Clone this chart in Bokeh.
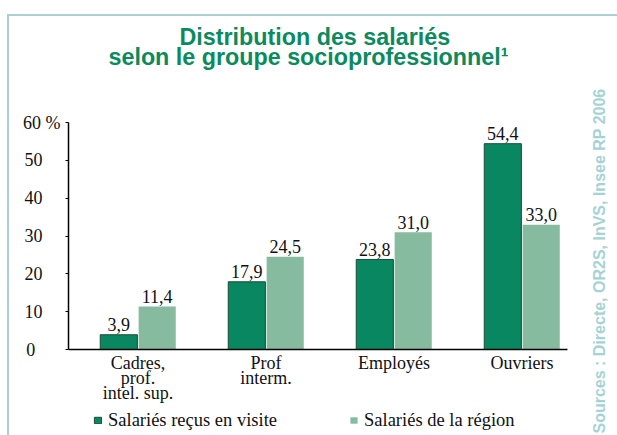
import math
from bokeh.plotting import figure
from bokeh.models import (ColumnDataSource, FixedTicker, Legend, LegendItem, Label,
                          Range1d, InlineStyleSheet)
from bokeh.core.properties import value
from bokeh.transform import dodge
from bokeh.embed import file_html
from bokeh.resources import INLINE

# ---- data ----
categories = ["Cadres,\nprof.\nintel. sup.", "Prof\ninterm.", "Employés", "Ouvriers"]
visite = [3.9, 17.9, 23.8, 54.4]
region = [11.4, 24.5, 31.0, 33.0]
series_names = ["Salariés reçus en visite", "Salariés de la région"]
y_ticks = [0, 10, 20, 30, 40, 50, 60]
y_tick_labels = ["0", "10", "20", "30", "40", "50", "60 %"]
title_lines = ["Distribution des salariés", "selon le groupe socioprofessionnel\u00b9"]
source_note = "Sources : Directe, OR2S, InVS, Insee RP 2006"

DARK = "#088760"
LIGHT = "#86bba0"
TITLE_C = "#0b8a5e"
NOTE_C = "#a7d2d5"
SERIF = "'Liberation Serif', serif"
SANS = "'Liberation Sans', sans-serif"

W, H = 617, 435
FL = 68                       # frame left (y axis position), px
Y_LO, Y_HI = -22.73, 92.25    # value range spanning the whole canvas height
X_LO, X_HI = -0.543, 3.746    # category range spanning frame width
AXIS_X = (-0.543, 3.355)      # extent of the baseline (x axis line)
BL = 7                        # baseline correction of svg text, px

def fmt(v):
    return f"{v:.1f}".replace(".", ",")

idx = list(range(len(categories)))
src = ColumnDataSource(dict(
    x=idx, zero=[0] * len(idx), cat=categories,
    visite=visite, region=region,
    vlab=[fmt(v) for v in visite], rlab=[fmt(v) for v in region],
))

border_css = InlineStyleSheet(css="""
:host::after {
  content: ""; position: absolute; left: 7px; top: 14px; right: -20px; bottom: -20px;
  border-top: 2.5px solid #a7d2d5; border-left: 2.5px solid #a7d2d5;
  pointer-events: none; z-index: 5;
}
""")

p = figure(width=W, height=H, output_backend="svg", toolbar_location=None,
           x_range=Range1d(X_LO, X_HI), y_range=Range1d(Y_LO, Y_HI),
           x_axis_location=None, stylesheets=[border_css],
           min_border_left=FL, min_border_right=0, min_border_top=0,
           min_border_bottom=0)
p.outline_line_color = None
p.xgrid.visible = False
p.ygrid.visible = False
p.background_fill_color = "white"
p.border_fill_color = "white"

r1 = p.vbar(x=dodge("x", -0.15), top="visite", width=0.29, source=src,
            fill_color=DARK, line_color="#1c4a36", line_width=1)
r2 = p.vbar(x=dodge("x", 0.15), top="region", width=0.29, source=src,
            fill_color=LIGHT, line_color=None)

# value labels
for col, lab, off in (("visite", "vlab", -0.15), ("region", "rlab", 0.15)):
    p.text(x=dodge("x", off), y=col, text=lab, source=src,
           text_align="center", text_baseline="alphabetic", y_offset=-3 - BL,
           text_font=value(SERIF), text_font_size="18px", text_color="#111111")

# baseline (x axis line) and category labels
p.segment(x0=[AXIS_X[0]], y0=[0], x1=[AXIS_X[1]], y1=[0],
          line_color="black", line_width=1.5)
p.text(x="x", y="zero", text="cat", source=src, text_align="center",
       text_baseline="top", y_offset=3, text_line_height=0.75,
       text_font=value(SERIF), text_font_size="18px", text_color="#111111")

# y axis
pad = {"0": "\u2007\u2007\u2009\u2009", "60 %": ""}
ya = p.yaxis[0]
ya.bounds = (y_ticks[0], y_ticks[-1])
ya.ticker = FixedTicker(ticks=y_ticks)
ya.major_label_overrides = {t: l + pad.get(l, "\u2007\u2007") for t, l in zip(y_ticks, y_tick_labels)}
ya.major_tick_out = 3
ya.major_tick_in = 0
ya.minor_tick_line_color = None
ya.axis_line_color = "black"
ya.axis_line_width = 1.5
ya.major_label_text_font = SERIF
ya.major_label_text_font_size = "18px"
ya.major_label_text_color = "#111111"
ya.major_label_standoff = 5

# legend (screen offsets from the frame's bottom-left)
legend = Legend(items=[LegendItem(label=series_names[0], renderers=[r1]),
                       LegendItem(label=series_names[1], renderers=[r2])],
                orientation="horizontal", location=(93 - FL, 4.5),
                label_text_font="Liberation Serif", label_text_font_size="18.5px",
                label_text_color="#111111",
                glyph_width=9, glyph_height=8, label_height=18, label_standoff=6,
                spacing=72, padding=0, margin=0,
                border_line_color=None, background_fill_alpha=0)
p.add_layout(legend, "center")

# two-line title
p.add_layout(Label(x=179 - FL, y=H - 43 + BL, x_units="screen", y_units="screen",
                   text=title_lines[0], text_align="left", text_baseline="alphabetic",
                   text_font=SANS, text_font_style="bold", text_font_size="23.3px",
                   text_color=TITLE_C))
p.add_layout(Label(x=108 - FL, y=H - 63 + BL, x_units="screen", y_units="screen",
                   text=title_lines[1], text_align="left", text_baseline="alphabetic",
                   text_font=SANS, text_font_style="bold", text_font_size="23.3px",
                   text_color=TITLE_C))

# vertical source note
p.add_layout(Label(x=606 - BL - FL, y=H - 433, x_units="screen", y_units="screen",
                   text=source_note, angle=math.pi / 2, text_align="left",
                   text_baseline="alphabetic",
                   text_font=SANS, text_font_style="bold", text_font_size="16px",
                   text_color=NOTE_C))

open("out.html", "w").write(file_html(p, INLINE))
